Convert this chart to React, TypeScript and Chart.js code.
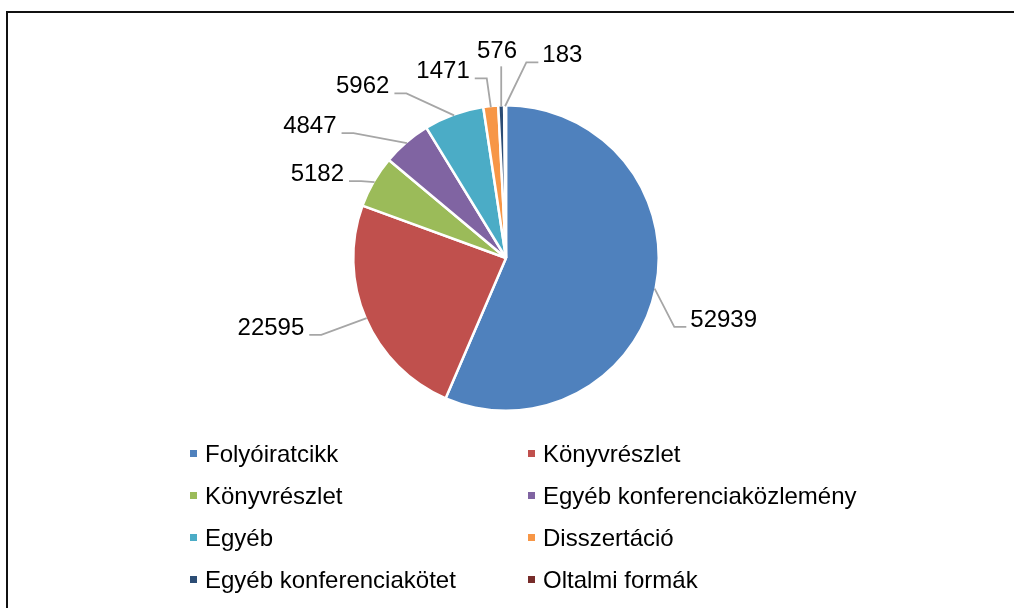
import React, { useEffect, useRef } from "react";
import { Chart, registerables } from "chart.js";

Chart.register(...registerables);

const CATEGORIES = [
  "Folyóiratcikk",
  "Könyvrészlet",
  "Könyvrészlet",
  "Egyéb konferenciaközlemény",
  "Egyéb",
  "Disszertáció",
  "Egyéb konferenciakötet",
  "Oltalmi formák",
];
const VALUES = [52939, 22595, 5182, 4847, 5962, 1471, 576, 183];
const COLORS = ["#4F81BD", "#C0504D", "#9BBB59", "#8064A2", "#4BACC6", "#F79646", "#2C4D75", "#772C2A"];

// label placement (text centre x, baseline y) relative to the pie centre, in units of the radius
const LABEL_LAYOUT: [number, number][] = [
  [1.425, 0.451],
  [-1.539, 0.503],
  [-1.235, -0.503],
  [-1.284, -0.817],
  [-0.938, -1.078],
  [-0.412, -1.176],
  [-0.059, -1.307],
  [0.369, -1.281],
];

const FONT = '24px "Liberation Sans", Arial, sans-serif';

const labelPlugin = {
  id: "outLabels",
  afterDatasetsDraw(chart: any) {
    const ctx = chart.ctx;
    const meta = chart.getDatasetMeta(0);
    ctx.save();
    ctx.font = FONT;
    ctx.fillStyle = "#000";
    ctx.textBaseline = "alphabetic";
    ctx.textAlign = "left";
    meta.data.forEach((arc: any, i: number) => {
      const { x, y, startAngle, endAngle, outerRadius } = arc.getProps(
        ["x", "y", "startAngle", "endAngle", "outerRadius"],
        true
      );
      const mid = (startAngle + endAngle) / 2;
      const ax = x + Math.cos(mid) * (outerRadius - 1);
      const ay = y + Math.sin(mid) * (outerRadius - 1);
      const text = String(VALUES[i]);
      const w = ctx.measureText(text).width;
      const [fx, fy] = LABEL_LAYOUT[i];
      const cx = x + fx * outerRadius;
      const by = y + fy * outerRadius;
      const left = cx - w / 2;
      const right = cx + w / 2;
      ctx.strokeStyle = "#A6A6A6";
      ctx.lineWidth = 1.8;
      ctx.beginPath();
      if (ax >= left && ax <= right) {
        ctx.moveTo(ax, by + 8);
        ctx.lineTo(ax, ay);
      } else if (ax < left) {
        ctx.moveTo(left - 4, by);
        ctx.lineTo(left - 16, by);
        ctx.lineTo(ax, ay);
      } else {
        ctx.moveTo(right + 5, by);
        ctx.lineTo(right + 17, by);
        ctx.lineTo(ax, ay);
      }
      ctx.stroke();
      ctx.fillText(text, left, by);
    });

    // legend: two columns
    const colMarker = [190, 528];
    const colText = [205, 543];
    const baseY = 462;
    const rowStep = 42;
    CATEGORIES.forEach((name, i) => {
      const col = i % 2;
      const row = Math.floor(i / 2);
      const yb = baseY + row * rowStep;
      ctx.fillStyle = COLORS[i];
      ctx.fillRect(colMarker[col], yb - 12, 7, 7);
      ctx.fillStyle = "#000";
      ctx.fillText(name, colText[col], yb);
    });
    ctx.restore();
  },
};

export default function App() {
  const ref = useRef<HTMLCanvasElement>(null);
  useEffect(() => {
    if (!ref.current) return;
    const chart = new Chart(ref.current, {
      type: "pie",
      data: {
        labels: CATEGORIES,
        datasets: [
          {
            data: VALUES,
            backgroundColor: COLORS,
            borderColor: "#FFFFFF",
            borderWidth: 2.5,
          },
        ],
      },
      options: {
        responsive: false,
        animation: false,
        layout: { padding: { top: 104, bottom: 196, left: 98, right: 100 } },
        plugins: {
          legend: { display: false },
          tooltip: { enabled: false },
        },
      },
      plugins: [labelPlugin],
    });
    return () => chart.destroy();
  }, []);
  return (
    <div
      style={{
        position: "fixed",
        left: 0,
        top: 0,
        width: 1014,
        height: 608,
        overflow: "hidden",
        background: "#fff",
      }}
    >
      <div
        style={{
          position: "absolute",
          left: 6,
          top: 11,
          width: 1200,
          height: 800,
          border: "2px solid #111",
          boxSizing: "border-box",
        }}
      />
      <canvas
        ref={ref}
        width={1014}
        height={608}
        style={{ position: "absolute", left: 0, top: 0, width: 1014, height: 608 }}
      />
    </div>
  );
}
